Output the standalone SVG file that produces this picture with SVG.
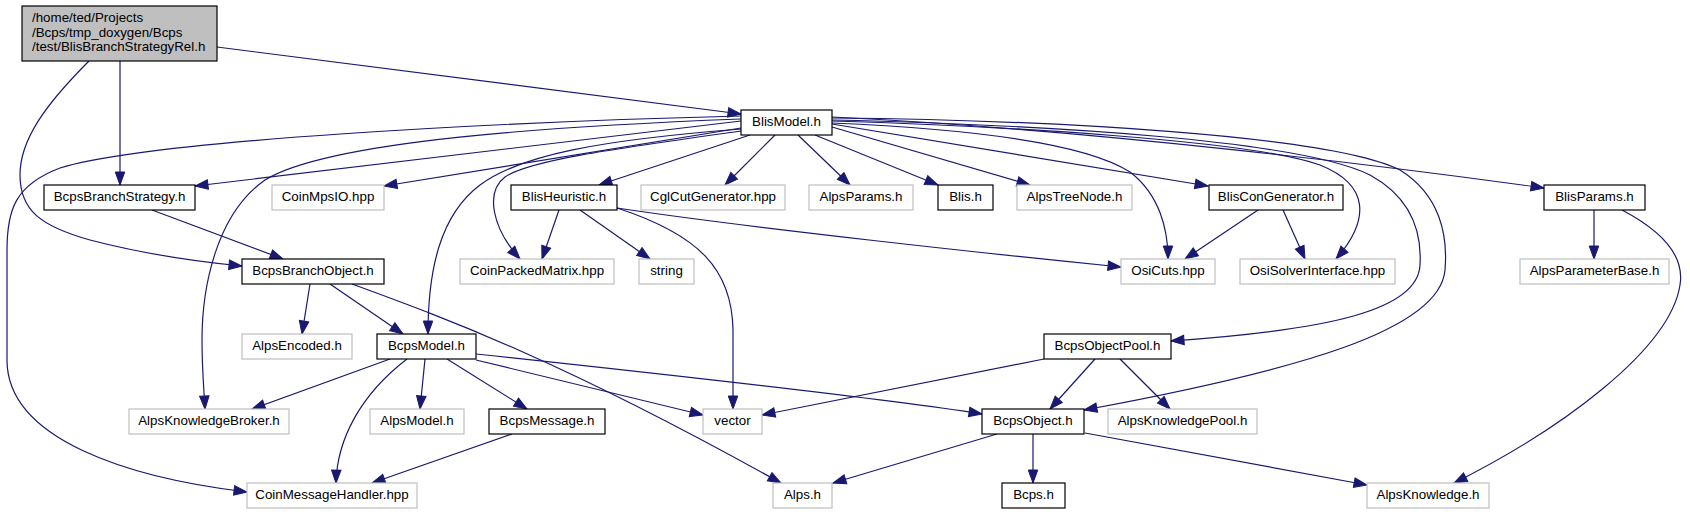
<svg xmlns="http://www.w3.org/2000/svg" width="1690" height="515" viewBox="0 0 1690 515">
<style>
rect{fill:#fff;stroke:#000;stroke-width:1.2}
.g rect{stroke:#bfbfbf}
.r rect{fill:#bfbfbf}
text{font-family:"Liberation Sans",Arial,Helvetica,sans-serif;font-size:13.33px;text-anchor:middle;fill:#000}
.r text{text-anchor:start}
#edges path{fill:none;stroke:#191970;stroke-width:1.2;marker-end:url(#a)}
</style>
<defs>
<marker id="a" markerUnits="userSpaceOnUse" markerWidth="14" markerHeight="10" refX="13" refY="4.75" orient="auto" overflow="visible">
<path d="M0,0 L13,4.75 L0,9.5 z" fill="#191970" stroke="#191970" stroke-width="1"/>
</marker>
</defs>
<rect x="0" y="0" width="1690" height="515" style="fill:#fff;stroke:none"/>
<g id="edges">
<path d="M217,47 L741,114"/>
<path d="M120,61 L120,185"/>
<path d="M89,61 C45,105 20,140 20,175 C20,210 40,226 90,240 C140,253 190,261 242,266"/>
<path d="M741,121 L195,186"/>
<path d="M741,128 L384,186"/>
<path d="M741,119 C560,126 330,140 265,180 C215,215 202,290 202,340 C202,370 204,390 205,409"/>
<path d="M741,116 C500,122 150,140 60,168 C15,185 7,210 7,250 L7,360 C7,440 130,478 247,492"/>
<path d="M741,129 C600,140 520,155 480,185 C440,215 428,270 428,334"/>
<path d="M741,131 C620,148 530,160 505,177 C485,192 492,228 520,259"/>
<path d="M750,135 L599,185"/>
<path d="M775,135 L725,185"/>
<path d="M798,135 L850,185"/>
<path d="M815,135 L938,185"/>
<path d="M832,127 L1030,185"/>
<path d="M832,124 L1208,186"/>
<path d="M832,123 C950,128 1080,140 1130,172 C1160,195 1168,230 1168,259"/>
<path d="M832,121 C1000,126 1250,140 1320,165 C1370,185 1370,220 1336,259"/>
<path d="M832,120 C1050,125 1300,140 1370,175 C1410,197 1422,230 1420,265 C1418,310 1330,330 1171,341"/>
<path d="M832,118 C1050,120 1330,135 1400,170 C1440,195 1448,235 1445,270 C1440,330 1300,370 1084,410"/>
<path d="M832,117 C1100,130 1400,168 1544,188"/>
<path d="M1594,210 L1594,259"/>
<path d="M1622,210 C1660,230 1685,255 1680,285 C1670,350 1560,430 1454,483"/>
<path d="M559,210 L542,259"/>
<path d="M580,210 L650,259"/>
<path d="M617,208 C700,235 732,270 733,330 L733,409"/>
<path d="M617,208 C750,228 1000,255 1121,267"/>
<path d="M1258,210 L1185,259"/>
<path d="M1283,210 L1305,259"/>
<path d="M152,210 L283,259"/>
<path d="M310,284 L302,334"/>
<path d="M330,284 L403,334"/>
<path d="M352,284 C450,320 560,360 781,483"/>
<path d="M390,359 L252,409"/>
<path d="M407,359 C360,395 337,440 336,483"/>
<path d="M425,359 L420,409"/>
<path d="M447,359 L527,409"/>
<path d="M476,360 L703,415"/>
<path d="M476,354 C700,378 880,398 982,414"/>
<path d="M512,434 L372,483"/>
<path d="M1044,359 L762,415"/>
<path d="M1095,359 L1050,409"/>
<path d="M1120,359 L1170,409"/>
<path d="M997,434 L833,483"/>
<path d="M1033,434 L1033,483"/>
<path d="M1085,433 L1367,485"/>
</g>
<g id="root" class="r"><rect x="22" y="6" width="195" height="55"/><text x="32" y="22">/home/ted/Projects</text><text x="32" y="37">/Bcps/tmp_doxygen/Bcps</text><text x="32" y="51">/test/BlisBranchStrategyRel.h</text></g>
<g id="BlisModel"><rect x="741" y="110" width="91" height="25"/><text x="786.5" y="126">BlisModel.h</text></g>
<g id="BcpsBranchStrategy"><rect x="44" y="185" width="151" height="25"/><text x="119.5" y="201">BcpsBranchStrategy.h</text></g>
<g id="CoinMpsIO" class="g"><rect x="272" y="185" width="112" height="25"/><text x="328" y="201">CoinMpsIO.hpp</text></g>
<g id="BlisHeuristic"><rect x="511" y="185" width="106" height="25"/><text x="564" y="201">BlisHeuristic.h</text></g>
<g id="CglCutGenerator" class="g"><rect x="641" y="185" width="144" height="25"/><text x="713" y="201">CglCutGenerator.hpp</text></g>
<g id="AlpsParams" class="g"><rect x="809" y="185" width="104" height="25"/><text x="861" y="201">AlpsParams.h</text></g>
<g id="Blis"><rect x="938" y="185" width="55" height="25"/><text x="965.5" y="201">Blis.h</text></g>
<g id="AlpsTreeNode" class="g"><rect x="1017" y="185" width="115" height="25"/><text x="1074.5" y="201">AlpsTreeNode.h</text></g>
<g id="BlisConGenerator"><rect x="1209" y="185" width="134" height="25"/><text x="1276" y="201">BlisConGenerator.h</text></g>
<g id="BlisParams"><rect x="1544" y="185" width="101" height="25"/><text x="1594.5" y="201">BlisParams.h</text></g>
<g id="BcpsBranchObject"><rect x="242" y="259" width="142" height="25"/><text x="313" y="275">BcpsBranchObject.h</text></g>
<g id="CoinPackedMatrix" class="g"><rect x="460" y="259" width="154" height="25"/><text x="537" y="275">CoinPackedMatrix.hpp</text></g>
<g id="string" class="g"><rect x="639" y="259" width="55" height="25"/><text x="666.5" y="275">string</text></g>
<g id="OsiCuts" class="g"><rect x="1121" y="259" width="94" height="25"/><text x="1168" y="275">OsiCuts.hpp</text></g>
<g id="OsiSolverInterface" class="g"><rect x="1240" y="259" width="155" height="25"/><text x="1317.5" y="275">OsiSolverInterface.hpp</text></g>
<g id="AlpsParameterBase" class="g"><rect x="1520" y="259" width="149" height="25"/><text x="1594.5" y="275">AlpsParameterBase.h</text></g>
<g id="AlpsEncoded" class="g"><rect x="242" y="334" width="110" height="25"/><text x="297" y="350">AlpsEncoded.h</text></g>
<g id="BcpsModel"><rect x="377" y="334" width="99" height="25"/><text x="426.5" y="350">BcpsModel.h</text></g>
<g id="BcpsObjectPool"><rect x="1044" y="334" width="127" height="25"/><text x="1107.5" y="350">BcpsObjectPool.h</text></g>
<g id="AlpsKnowledgeBroker" class="g"><rect x="129" y="409" width="160" height="25"/><text x="209" y="425">AlpsKnowledgeBroker.h</text></g>
<g id="AlpsModel" class="g"><rect x="370" y="409" width="94" height="25"/><text x="417" y="425">AlpsModel.h</text></g>
<g id="BcpsMessage"><rect x="489" y="409" width="116" height="25"/><text x="547" y="425">BcpsMessage.h</text></g>
<g id="vector" class="g"><rect x="703" y="409" width="59" height="25"/><text x="732.5" y="425">vector</text></g>
<g id="BcpsObject"><rect x="982" y="409" width="102" height="25"/><text x="1033" y="425">BcpsObject.h</text></g>
<g id="AlpsKnowledgePool" class="g"><rect x="1108" y="409" width="149" height="25"/><text x="1182.5" y="425">AlpsKnowledgePool.h</text></g>
<g id="CoinMessageHandler" class="g"><rect x="247" y="483" width="170" height="25"/><text x="332" y="499">CoinMessageHandler.hpp</text></g>
<g id="Alps" class="g"><rect x="773" y="483" width="59" height="25"/><text x="802.5" y="499">Alps.h</text></g>
<g id="Bcps"><rect x="1002" y="483" width="63" height="25"/><text x="1033.5" y="499">Bcps.h</text></g>
<g id="AlpsKnowledge" class="g"><rect x="1367" y="483" width="122" height="25"/><text x="1428" y="499">AlpsKnowledge.h</text></g>
</svg>
